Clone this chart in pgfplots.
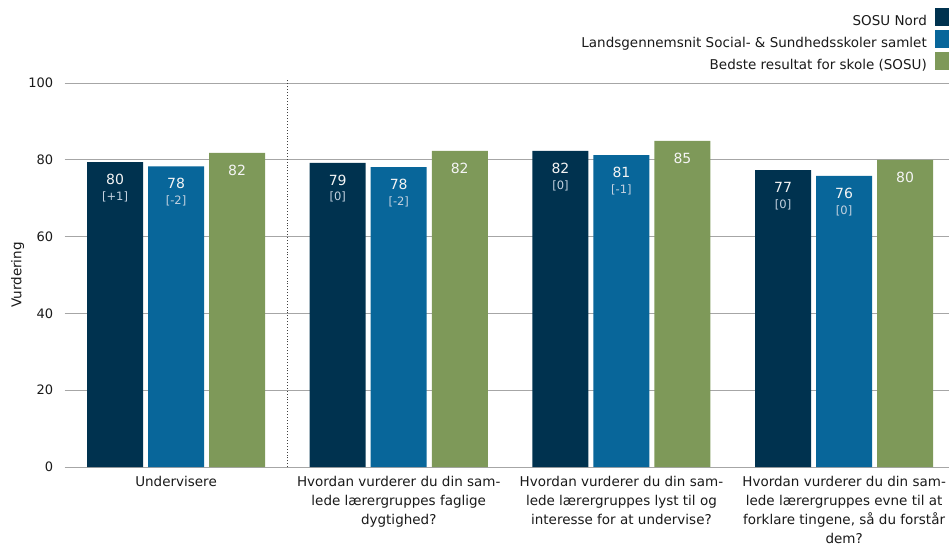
\documentclass[border=0pt]{standalone}
\usepackage{pgfplots}
\pgfplotsset{compat=1.18}
\usepackage{fontspec}
\setmainfont{DejaVu Sans}
\definecolor{cDark}{HTML}{00324F}
\definecolor{cBlue}{HTML}{08669A}
\definecolor{cGreen}{HTML}{7E9959}
\definecolor{cGrid}{HTML}{A6A6A6}
\definecolor{cBr}{HTML}{C4D2E0}
\definecolor{cNum}{HTML}{F4F4F4}
\definecolor{cText}{HTML}{1A1A1A}
\begin{document}
\begin{tikzpicture}
\begin{axis}[
  scale only axis, width=884.3pt, height=384pt,
  xmin=-0.5, xmax=3.471, ymin=0, ymax=100,
  clip=false,
  axis line style={draw=none},
  major tick length=0pt,
  ytick={0,20,40,60,80,100},
  ymajorgrids, grid style={cGrid, line width=1pt},
  xtick={0,1,2,3},
  xticklabels={Undervisere,
    {Hvordan vurderer du din sam-\\lede lærergruppes faglige\\dygtighed?},
    {Hvordan vurderer du din sam-\\lede lærergruppes lyst til og\\interesse for at undervise?},
    {Hvordan vurderer du din sam-\\lede lærergruppes evne til at\\forklare tingene, så du forstår\\dem?}},
  /pgf/number format/assume math mode=true,
  xticklabel style={align=center, yshift=-5.5pt, font=\fontsize{13.5}{19}\selectfont, text=cText},
  yticklabel style={xshift=-8pt, font=\fontsize{13}{16}\selectfont, text=cText},
  ylabel={Vurdering},
  ylabel style={at={(axis description cs:0,0.5)}, anchor=center, yshift=47pt, font=\fontsize{13.5}{16}\selectfont, text=cText},
  legend style={at={(rel axis cs:1,1)}, anchor=south east, xshift=3pt, yshift=10pt,
    draw=none, fill=none, font=\fontsize{13.5}{16}\selectfont, text=cText,
    row sep=3pt, column sep=8pt, nodes={inner sep=0pt}},
  legend cell align=right,
  legend plot pos=right,
  legend image code/.code={\fill[#1, draw=none] (0pt,-5pt) rectangle (14pt,13pt);},
  point meta=explicit symbolic,
  nodes near coords align={anchor=center},
]
% bars with values
\addplot[ybar, bar width=0.2515, bar shift=-0.274, fill=cDark, draw=none,
  nodes near coords, every node near coord/.append style={xshift=-61pt, yshift=-17.5pt, text=cNum, font=\fontsize{14}{17}\selectfont}]
  coordinates {(0,79.4)[80] (1,79.2)[79] (2,82.3)[82] (3,77.3)[77]};
\addlegendentry{SOSU Nord}
\addplot[ybar, bar width=0.2515, bar shift=0, fill=cBlue, draw=none,
  nodes near coords, every node near coord/.append style={yshift=-17.5pt, text=cNum, font=\fontsize{14}{17}\selectfont}]
  coordinates {(0,78.3)[78] (1,78.1)[78] (2,81.25)[81] (3,75.8)[76]};
\addlegendentry{Landsgennemsnit Social- \& Sundhedsskoler samlet}
\addplot[ybar, bar width=0.2515, bar shift=0.274, fill=cGreen, draw=none,
  nodes near coords, every node near coord/.append style={xshift=61pt, yshift=-17.5pt, text=cNum, font=\fontsize{14}{17}\selectfont}]
  coordinates {(0,81.8)[82] (1,82.3)[82] (2,84.9)[85] (3,80.0)[80]};
\addlegendentry{Bedste resultat for skole (SOSU)}
% change labels
\addplot[ybar, bar width=0.2515, bar shift=-0.274, fill=none, draw=none, forget plot,
  nodes near coords, every node near coord/.append style={xshift=-61pt, yshift=-34.5pt, text=cBr, font=\fontsize{11.5}{14}\selectfont}]
  coordinates {(0,79.4)[\lbrack+1\rbrack] (1,79.2)[\lbrack0\rbrack] (2,82.3)[\lbrack0\rbrack] (3,77.3)[\lbrack0\rbrack]};
\addplot[ybar, bar width=0.2515, bar shift=0, fill=none, draw=none, forget plot,
  nodes near coords, every node near coord/.append style={yshift=-34.5pt, text=cBr, font=\fontsize{11.5}{14}\selectfont}]
  coordinates {(0,78.3)[\lbrack-2\rbrack] (1,78.1)[\lbrack-2\rbrack] (2,81.25)[\lbrack-1\rbrack] (3,75.8)[\lbrack0\rbrack]};
\draw[dotted, line width=0.9pt, black!75] (axis cs:0.5,0) -- (axis cs:0.5,100.8);
\end{axis}
\pgfresetboundingbox
\path (-64.7pt,-80pt) rectangle (884.3pt,467pt);
\end{tikzpicture}
\end{document}
